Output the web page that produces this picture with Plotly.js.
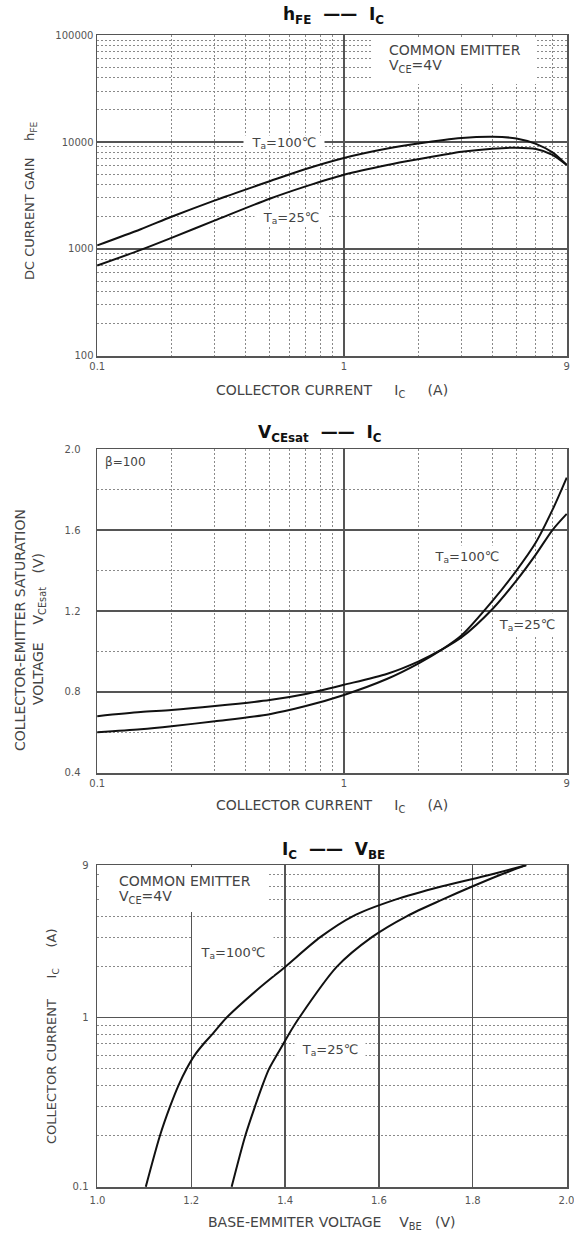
<!DOCTYPE html>
<html>
<head>
<meta charset="utf-8">
<script src="https://cdn.plot.ly/plotly-3.0.1.min.js"></script>
<style>
  html, body { margin: 0; padding: 0; background: #fff; }
  #chart { width: 574px; height: 1236px; }
</style>
</head>
<body>
<div id="chart"></div>
<script>
// ---------- data ----------
// Chart 1 : hFE vs IC
const IC1      = [0.1, 0.15, 0.2, 0.3, 0.5, 0.7, 1, 1.5, 2, 3, 4, 5, 6, 7, 8];
const HFE_100C = [1080, 1530, 2000, 2850, 4300, 5600, 7100, 8700, 9700, 10900, 11200, 10800, 9600, 8000, 6100];
const HFE_25C  = [700, 980, 1270, 1850, 2950, 3850, 4950, 6100, 6900, 8100, 8650, 8850, 8600, 7600, 6100];

// Chart 2 : VCEsat vs IC
const IC2         = [0.1, 0.15, 0.2, 0.3, 0.5, 0.7, 1, 1.5, 2, 2.5, 3, 4, 5, 6, 7, 8];
const VCESAT_100C = [0.60, 0.615, 0.63, 0.655, 0.69, 0.73, 0.785, 0.865, 0.94, 1.01, 1.08, 1.25, 1.40, 1.54, 1.70, 1.86];
const VCESAT_25C  = [0.68, 0.70, 0.71, 0.73, 0.76, 0.79, 0.835, 0.89, 0.95, 1.01, 1.07, 1.21, 1.35, 1.48, 1.60, 1.68];

// Chart 3 : IC vs VBE
const IC3_100C = [0.1, 0.2, 0.3, 0.4, 0.5, 0.6, 0.7, 0.8, 1, 1.5, 2, 3, 4, 5, 6, 7, 8];
const VBE_100C = [1.103, 1.133, 1.155, 1.173, 1.19, 1.207, 1.226, 1.245, 1.275, 1.345, 1.40, 1.475, 1.545, 1.635, 1.735, 1.835, 1.914];
const IC3_25C  = [0.1, 0.2, 0.3, 0.4, 0.5, 0.6, 0.7, 0.8, 1, 2, 3, 4, 5, 6, 7, 8];
const VBE_25C  = [1.286, 1.315, 1.336, 1.352, 1.366, 1.382, 1.396, 1.408, 1.43, 1.51, 1.585, 1.66, 1.735, 1.80, 1.858, 1.914];

// tick labels
const IC_TICKVALS  = [0.1, 1, 8];
const IC_TICKTEXT  = ['0.1', '1', '9'];
const HFE_TICKVALS = [100, 1000, 10000, 100000];
const HFE_TICKTEXT = ['100', '1000', '10000', '100000'];

// ---------- layout helpers ----------
const W = 574, H = 1236;
const px = x => x / W;
const py = y => 1 - y / H;
const P1 = {l: 97, r: 567, t: 35,  b: 356};
const P2 = {l: 97, r: 567, t: 449, b: 773};
const P3 = {l: 97, r: 567, t: 865, b: 1187};
const xd = P => [px(P.l), px(P.r)];
const yd = P => [py(P.b), py(P.t)];

function minorLog(lo, hi) {
  const v = [];
  for (let e = lo; e < hi; e++) for (let d = 2; d <= 9; d++) v.push(d * Math.pow(10, e));
  return v;
}

const FONT = 'DejaVu Sans, Liberation Sans, Arial, sans-serif';
const axBase = {
  showline: true, mirror: true, linecolor: '#555', linewidth: 1.5,
  ticks: '', showgrid: true, gridcolor: '#555', gridwidth: 1.3,
  zeroline: false, fixedrange: true, ticklabeloverflow: 'allow',
  tickfont: {family: FONT, size: 10, color: '#555'}
};
const minorBase = {showgrid: true, gridcolor: '#8a8a8a', griddash: '2px,2px', gridwidth: 1, ticks: ''};
const L8 = Math.log10(8) + 0.001;

const layout = {
  width: W, height: H,
  margin: {l: 0, r: 0, t: 0, b: 0},
  paper_bgcolor: '#fff', plot_bgcolor: '#fff',
  showlegend: false,
  font: {family: FONT, color: '#444'},
  xaxis: Object.assign({}, axBase, {
    domain: xd(P1), anchor: 'y', type: 'log', range: [-1.001, L8],
    tickmode: 'array', tickvals: IC_TICKVALS, ticktext: IC_TICKTEXT,
    minor: Object.assign({}, minorBase, {tickmode: 'array', tickvals: minorLog(-1, 1)})
  }),
  yaxis: Object.assign({}, axBase, {
    domain: yd(P1), anchor: 'x', type: 'log', range: [1.999, 5.001],
    tickmode: 'array', tickvals: HFE_TICKVALS, ticktext: HFE_TICKTEXT,
    minor: Object.assign({}, minorBase, {tickmode: 'array', tickvals: minorLog(2, 5)})
  }),
  xaxis2: Object.assign({}, axBase, {
    domain: xd(P2), anchor: 'y2', type: 'log', range: [-1.001, L8],
    tickmode: 'array', tickvals: IC_TICKVALS, ticktext: IC_TICKTEXT,
    minor: Object.assign({}, minorBase, {tickmode: 'array', tickvals: minorLog(-1, 1)})
  }),
  yaxis2: Object.assign({}, axBase, {
    domain: yd(P2), anchor: 'x2', range: [0.399, 2.001],
    tickmode: 'linear', tick0: 0.4, dtick: 0.4, tickformat: '.1f',
    ticklabelstandoff: 13,
    minor: Object.assign({}, minorBase, {tickmode: 'linear', tick0: 0.4, dtick: 0.2})
  }),
  xaxis3: Object.assign({}, axBase, {
    domain: xd(P3), anchor: 'y3', range: [0.999, 2.001],
    tickmode: 'linear', tick0: 1, dtick: 0.2, tickformat: '.1f', ticklabelstandoff: 3
  }),
  yaxis3: Object.assign({}, axBase, {
    domain: yd(P3), anchor: 'x3', type: 'log', range: [-1.001, L8],
    tickmode: 'array', tickvals: IC_TICKVALS, ticktext: IC_TICKTEXT,
    ticklabelstandoff: 5,
    minor: Object.assign({}, minorBase, {tickmode: 'array', tickvals: minorLog(-1, 1)})
  }),
  shapes: [
    {type: 'rect', xref: 'paper', yref: 'paper', layer: 'above',
     x0: px(373), x1: px(537), y0: py(84), y1: py(37), fillcolor: '#fff', line: {width: 0}},
    {type: 'rect', xref: 'paper', yref: 'paper', layer: 'above',
     x0: px(99), x1: px(267), y0: py(912), y1: py(867), fillcolor: '#fff', line: {width: 0}}
  ],
  annotations: []
};

const NB = '\u00a0';
const sp = n => NB.repeat(n);
function ann(text, x, y, o) {
  return Object.assign({
    xref: 'paper', yref: 'paper', x: px(x), y: py(y), text: text,
    showarrow: false, xanchor: 'center', yanchor: 'middle',
    font: {family: FONT, size: 14, color: '#444'}
  }, o || {});
}
function label(text, x, y, w, h, size) {
  return ann(text, x, y, {width: w, height: h, bgcolor: '#fff', borderpad: 0,
    font: {family: FONT, size: size || 13, color: '#444'}});
}
const TITLE_FONT = {family: FONT, size: 17, color: '#111', weight: 'bold'};
const YT_FONT = {family: FONT, size: 13, color: '#444'};
const A = layout.annotations;

// chart 1
A.push(ann('h<sub>FE</sub>' + sp(2) + '——' + sp(2) + 'I<sub>C</sub>', 333, 16, {font: TITLE_FONT}));
A.push(ann('COLLECTOR CURRENT' + sp(5) + 'I<sub>C</sub>' + sp(5) + '(A)', 332, 391));
A.push(ann('DC CURRENT GAIN' + sp(4) + 'h<sub>FE</sub>', 30, 201, {textangle: -90, font: YT_FONT}));
A.push(ann('COMMON EMITTER', 387, 50, {xanchor: 'left'}));
A.push(ann('V<sub>CE</sub>=4V', 387, 66, {xanchor: 'left'}));
A.push(label('T<sub>a</sub>=100℃', 284, 143, 80, 14));
A.push(label('T<sub>a</sub>=25℃', 291, 218, 72, 16));

// chart 2
A.push(ann('V<sub>CEsat</sub>' + sp(2) + '——' + sp(2) + 'I<sub>C</sub>', 320, 433, {font: TITLE_FONT}));
A.push(ann('COLLECTOR CURRENT' + sp(5) + 'I<sub>C</sub>' + sp(5) + '(A)', 332, 806));
A.push(ann('COLLECTOR-EMITTER SATURATION', 20, 630, {textangle: -90}));
A.push(ann('VOLTAGE' + sp(4) + 'V<sub>CEsat</sub>' + sp(3) + '(V)', 39, 629, {textangle: -90}));
A.push(ann('β=100', 103, 462, {xanchor: 'left', font: {family: FONT, size: 12, color: '#444'}}));
A.push(label('T<sub>a</sub>=100℃', 467, 557, 68, 22));
A.push(label('T<sub>a</sub>=25℃', 527, 625, 62, 22));

// chart 3
A.push(ann('I<sub>C</sub>' + sp(2) + '——' + sp(2) + 'V<sub>BE</sub>', 333, 850, {font: TITLE_FONT}));
A.push(ann('BASE-EMMITER VOLTAGE' + sp(4) + 'V<sub>BE</sub>' + sp(3) + '(V)', 332, 1223));
A.push(ann('COLLECTOR CURRENT' + sp(5) + 'I<sub>C</sub>' + sp(5) + '(A)', 52, 1036, {textangle: -90, font: YT_FONT}));
A.push(ann('COMMON EMITTER', 117, 881, {xanchor: 'left'}));
A.push(ann('V<sub>CE</sub>=4V', 117, 897, {xanchor: 'left'}));
A.push(label('T<sub>a</sub>=100℃', 233, 953, 80, 44));
A.push(label('T<sub>a</sub>=25℃', 330, 1050, 70, 26));

const lineStyle = {color: '#111', width: 2, shape: 'spline', smoothing: 0.8};
const data = [
  {x: IC1, y: HFE_100C, xaxis: 'x', yaxis: 'y', mode: 'lines', line: lineStyle, name: 'Ta=100℃', hoverinfo: 'skip'},
  {x: IC1, y: HFE_25C,  xaxis: 'x', yaxis: 'y', mode: 'lines', line: lineStyle, name: 'Ta=25℃', hoverinfo: 'skip'},
  {x: IC2, y: VCESAT_100C, xaxis: 'x2', yaxis: 'y2', mode: 'lines', line: lineStyle, name: 'Ta=100℃', hoverinfo: 'skip'},
  {x: IC2, y: VCESAT_25C,  xaxis: 'x2', yaxis: 'y2', mode: 'lines', line: lineStyle, name: 'Ta=25℃', hoverinfo: 'skip'},
  {x: VBE_100C, y: IC3_100C, xaxis: 'x3', yaxis: 'y3', mode: 'lines', line: lineStyle, name: 'Ta=100℃', hoverinfo: 'skip'},
  {x: VBE_25C,  y: IC3_25C,  xaxis: 'x3', yaxis: 'y3', mode: 'lines', line: lineStyle, name: 'Ta=25℃', hoverinfo: 'skip'}
];

Plotly.newPlot('chart', data, layout, {staticPlot: true, displayModeBar: false});
</script>
</body>
</html>
